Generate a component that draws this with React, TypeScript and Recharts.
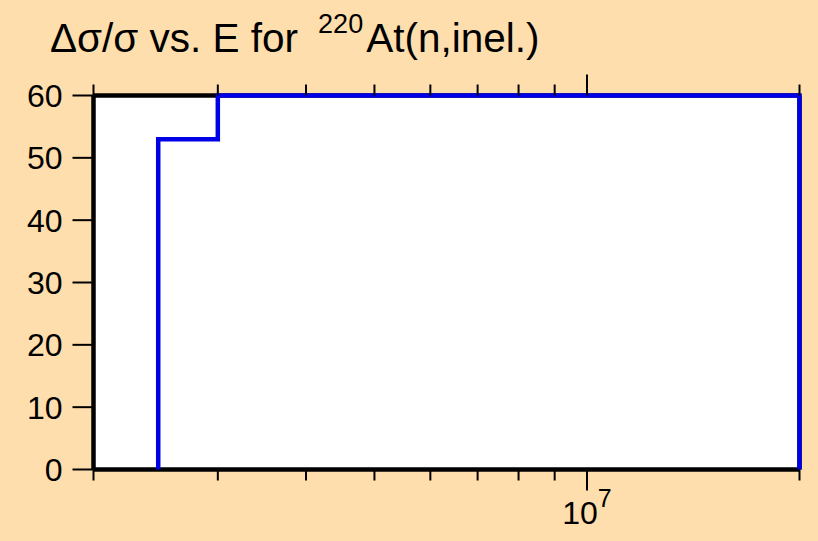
import { LineChart, Line, XAxis, YAxis, CartesianGrid } from "recharts";

// relative uncertainty (%) of the inelastic cross section, step edges
const energy = [2.47e6, 2.47e6, 3e6, 2e7, 2e7];
const relErr = [0, 53, 60, 60, 0];

const xTicks = [2e6, 3e6, 4e6, 5e6, 6e6, 7e6, 8e6, 9e6, 1e7, 2e7];
const majorX = [1e7];
const yTicks = [0, 10, 20, 30, 40, 50, 60];
const xDomain = [2e6, 2e7];
const yDomain = [0, 60];

const data = energy.map((e, i) => ({ e, v: relErr[i] }));

const FONT = '"Liberation Sans", Arial, Helvetica, sans-serif';

function BottomTick({ x, y, payload }: any) {
  const major = majorX.includes(payload.value);
  const exp = Math.round(Math.log10(payload.value));
  return (
    <g>
      <line x1={x} x2={x} y1={y} y2={y + (major ? 21 : 11)} stroke="#000" strokeWidth={2} />
      {major && (
        <text x={x} y={y + 54.5} textAnchor="middle" fontSize={32} fontFamily={FONT} fill="#000">
          <tspan>10</tspan>
          <tspan dy={-17} fontSize={25}>{exp}</tspan>
        </text>
      )}
    </g>
  );
}

function TopTick({ x, y, payload }: any) {
  const major = majorX.includes(payload.value);
  return <line x1={x} x2={x} y1={y} y2={y - (major ? 21 : 11)} stroke="#000" strokeWidth={2} />;
}

function LeftTick({ x, y, payload }: any) {
  return (
    <g>
      <line x1={x - 21} x2={x} y1={y} y2={y} stroke="#000" strokeWidth={2} />
      <text x={x - 31} y={y} dy="0.355em" textAnchor="end" fontSize={32} fontFamily={FONT} fill="#000">
        {payload.value}
      </text>
    </g>
  );
}

function RightTick({ x, y }: any) {
  return <line x1={x} x2={x + 20} y1={y} y2={y} stroke="#000" strokeWidth={2} />;
}

export default function App() {
  return (
    <div style={{ position: "absolute", left: 0, top: 0, width: 818, height: 541, background: "#FFDEAD" }}>
      <LineChart width={818} height={541} data={data} margin={{ top: 0, right: 0, bottom: 0, left: 0 }}>
        {/* white plot area with a heavy black frame, drawn under the curve */}
        <CartesianGrid
          fill="#fff"
          stroke="#000"
          strokeWidth={4.5}
          horizontalValues={yDomain}
          verticalValues={xDomain}
        />
        <XAxis
          dataKey="e"
          type="number"
          scale="log"
          domain={xDomain}
          ticks={xTicks}
          height={71.5}
          axisLine={false}
          tickLine={false}
          tickSize={0}
          tickMargin={0}
          tick={<BottomTick />}
          interval={0}
        />
        <XAxis
          xAxisId="top"
          orientation="top"
          dataKey="e"
          type="number"
          scale="log"
          domain={xDomain}
          ticks={xTicks}
          height={95.5}
          axisLine={false}
          tickLine={false}
          tickSize={0}
          tickMargin={0}
          tick={<TopTick />}
          interval={0}
        />
        <YAxis
          type="number"
          domain={yDomain}
          ticks={yTicks}
          width={93.5}
          axisLine={false}
          tickLine={false}
          tickSize={0}
          tickMargin={0}
          tick={<LeftTick />}
          interval={0}
        />
        <YAxis
          yAxisId="right"
          orientation="right"
          type="number"
          domain={yDomain}
          ticks={yTicks}
          width={18.5}
          axisLine={false}
          tickLine={false}
          tickSize={0}
          tickMargin={0}
          tick={<RightTick />}
          interval={0}
        />
        <Line
          type="stepAfter"
          dataKey="v"
          stroke="#0000e6"
          strokeWidth={4.5}
          dot={false}
          activeDot={false}
          isAnimationActive={false}
        />
      </LineChart>
      <svg width={818} height={80} style={{ position: "absolute", left: 0, top: 0 }}>
        <text x={50} y={52} fontSize={40.5} fontFamily={FONT} fill="#000">
          Δσ/σ vs. E for
          <tspan dx={20} dy={-19} fontSize={27}>220</tspan>
          <tspan dx={3} dy={19} fontSize={40.5}>At(n,inel.)</tspan>
        </text>
      </svg>
    </div>
  );
}
